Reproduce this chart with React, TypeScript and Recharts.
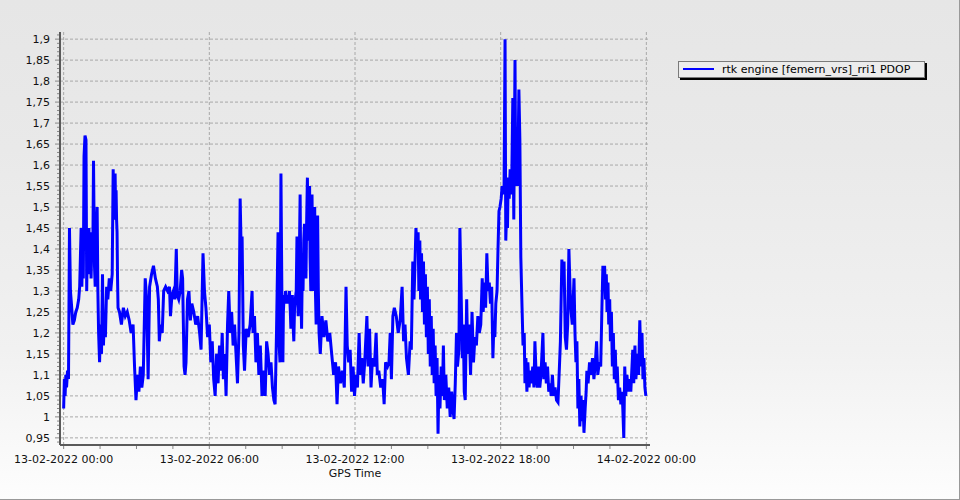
import { LineChart, Line, XAxis, YAxis, CartesianGrid, Legend } from 'recharts'

// PDOP samples: [hours since 13-02-2022 00:00, PDOP]
const block00to06: [number, number][] = [
  [0, 1.02], [0.03, 1.09], [0.06, 1.05], [0.09, 1.1], [0.12, 1.07], [0.16, 1.11], [0.2, 1.09],
  [0.24, 1.45], [0.28, 1.3], [0.32, 1.27], [0.38, 1.22], [0.44, 1.23], [0.5, 1.25], [0.56, 1.26],
  [0.62, 1.28], [0.66, 1.31], [0.72, 1.45], [0.75, 1.31], [0.78, 1.42], [0.81, 1.33], [0.84, 1.62],
  [0.88, 1.67], [0.92, 1.66], [0.95, 1.3], [0.98, 1.44], [1.01, 1.34], [1.04, 1.45], [1.07, 1.36],
  [1.1, 1.44], [1.13, 1.33], [1.16, 1.41], [1.2, 1.37], [1.23, 1.61], [1.27, 1.36], [1.3, 1.31],
  [1.34, 1.42], [1.38, 1.5], [1.41, 1.3], [1.44, 1.2], [1.48, 1.13], [1.52, 1.22], [1.56, 1.15],
  [1.6, 1.34], [1.64, 1.17], [1.68, 1.24], [1.72, 1.19], [1.77, 1.31], [1.82, 1.28], [1.88, 1.33],
  [1.94, 1.3], [2, 1.34], [2.04, 1.59], [2.06, 1.48], [2.08, 1.55], [2.1, 1.47], [2.12, 1.58],
  [2.14, 1.49], [2.16, 1.54], [2.18, 1.47], [2.2, 1.44], [2.22, 1.33],
  [2.24, 1.26], [2.3, 1.25], [2.38, 1.22], [2.46, 1.26], [2.54, 1.24], [2.62, 1.25], [2.7, 1.23],
  [2.78, 1.2], [2.86, 1.22], [2.92, 1.12], [2.98, 1.04], [3.04, 1.1], [3.1, 1.06], [3.16, 1.12],
  [3.22, 1.07], [3.28, 1.1], [3.36, 1.33], [3.42, 1.28], [3.48, 1.09], [3.54, 1.31], [3.62, 1.34],
  [3.7, 1.36], [3.78, 1.33], [3.86, 1.31], [3.9, 1.28], [3.94, 1.18], [4, 1.22], [4.06, 1.2],
  [4.12, 1.3], [4.2, 1.31], [4.28, 1.3], [4.36, 1.31], [4.4, 1.24], [4.46, 1.29], [4.52, 1.3],
  [4.58, 1.28], [4.64, 1.4], [4.68, 1.29], [4.74, 1.28], [4.8, 1.3], [4.86, 1.35], [4.9, 1.33],
  [4.96, 1.12], [5, 1.1], [5.04, 1.13], [5.1, 1.28], [5.16, 1.3], [5.22, 1.23], [5.28, 1.27],
  [5.36, 1.25], [5.44, 1.22], [5.52, 1.24], [5.6, 1.2], [5.66, 1.16], [5.74, 1.39], [5.8, 1.3],
  [5.86, 1.26], [5.93, 1.19],
]

const block06to12: [number, number][] = [
  [6, 1.22], [6.06, 1.13], [6.12, 1.18], [6.18, 1.09], [6.24, 1.05], [6.3, 1.15], [6.36, 1.08],
  [6.42, 1.17], [6.48, 1.11], [6.53, 1.2], [6.58, 1.09], [6.64, 1.15], [6.69, 1.05], [6.75, 1.22],
  [6.8, 1.3], [6.86, 1.2], [6.92, 1.25], [6.98, 1.17], [7.04, 1.22], [7.1, 1.15], [7.16, 1.08],
  [7.22, 1.2], [7.27, 1.52], [7.31, 1.4], [7.35, 1.43], [7.4, 1.17], [7.45, 1.11], [7.52, 1.21],
  [7.6, 1.19], [7.68, 1.22], [7.76, 1.3], [7.8, 1.2], [7.86, 1.24], [7.92, 1.13], [7.98, 1.2],
  [8.04, 1.1], [8.1, 1.17], [8.17, 1.05], [8.24, 1.11], [8.3, 1.05], [8.36, 1.18], [8.42, 1.15],
  [8.48, 1.1], [8.54, 1.13], [8.6, 1.07], [8.66, 1.04], [8.71, 1.03], [8.77, 1.21], [8.83, 1.44],
  [8.87, 1.18], [8.91, 1.13], [8.95, 1.58], [8.99, 1.28], [9.01, 1.2], [9.03, 1.13], [9.05, 1.25],
  [9.08, 1.29], [9.11, 1.27], [9.14, 1.3], [9.18, 1.27], [9.22, 1.29], [9.26, 1.27], [9.3, 1.3],
  [9.33, 1.26], [9.36, 1.21], [9.39, 1.28], [9.42, 1.29], [9.45, 1.22], [9.48, 1.18], [9.51, 1.26],
  [9.54, 1.28], [9.58, 1.3], [9.61, 1.43], [9.63, 1.3], [9.66, 1.24], [9.7, 1.35], [9.74, 1.53],
  [9.77, 1.3], [9.8, 1.21], [9.83, 1.36], [9.86, 1.3], [9.89, 1.42], [9.92, 1.46], [9.95, 1.35],
  [9.98, 1.33], [10.01, 1.47], [10.04, 1.57], [10.06, 1.45], [10.08, 1.42], [10.1, 1.52], [10.13, 1.55],
  [10.15, 1.38], [10.18, 1.3], [10.2, 1.45], [10.23, 1.53], [10.25, 1.4], [10.28, 1.3], [10.31, 1.44],
  [10.34, 1.5], [10.37, 1.3], [10.4, 1.22], [10.43, 1.4], [10.46, 1.48], [10.49, 1.3], [10.52, 1.2],
  [10.57, 1.15], [10.64, 1.24], [10.72, 1.19], [10.8, 1.23], [10.88, 1.18],
  [10.96, 1.2], [11.04, 1.15], [11.12, 1.1], [11.2, 1.13], [11.26, 1.03], [11.32, 1.12], [11.4, 1.08],
  [11.48, 1.11], [11.56, 1.07], [11.63, 1.31], [11.68, 1.17], [11.74, 1.13], [11.8, 1.16], [11.86, 1.06],
  [11.92, 1.12], [11.98, 1.05],
]

const block12to18: [number, number][] = [
  [12.04, 1.1], [12.1, 1.07], [12.17, 1.2], [12.22, 1.1], [12.28, 1.14], [12.34, 1.08], [12.4, 1.13],
  [12.49, 1.24], [12.54, 1.12], [12.6, 1.21], [12.66, 1.07], [12.72, 1.14], [12.8, 1.12], [12.87, 1.2],
  [12.92, 1.1], [12.98, 1.11], [13.06, 1.07], [13.14, 1.09], [13.2, 1.03], [13.26, 1.13], [13.34, 1.12],
  [13.4, 1.13], [13.45, 1.2], [13.5, 1.09], [13.56, 1.24], [13.62, 1.26], [13.7, 1.24], [13.78, 1.2],
  [13.86, 1.23], [13.94, 1.31], [14, 1.18], [14.06, 1.22], [14.12, 1.14], [14.2, 1.1], [14.27, 1.18],
  [14.32, 1.16], [14.38, 1.37], [14.43, 1.28], [14.51, 1.45], [14.56, 1.4], [14.6, 1.44], [14.63, 1.3],
  [14.67, 1.42], [14.7, 1.28], [14.74, 1.39], [14.78, 1.25], [14.82, 1.37], [14.86, 1.22], [14.9, 1.34],
  [14.94, 1.19], [14.98, 1.31], [15.02, 1.15], [15.06, 1.28], [15.1, 1.12], [15.14, 1.24], [15.18, 1.1],
  [15.22, 1.21], [15.26, 1.08], [15.3, 1.17], [15.34, 1.05], [15.38, 1.14], [15.42, 0.96], [15.46, 1.1],
  [15.5, 1.02], [15.55, 1.12], [15.6, 1.05], [15.64, 1.17], [15.68, 1.04], [15.74, 1.1], [15.8, 1.02],
  [15.86, 1.07], [15.92, 1], [15.98, 1.06], [16.03, 1.02], [16.08, 0.995], [16.13, 1.08], [16.18, 1.2],
  [16.22, 1.12], [16.28, 1.16], [16.32, 1.45], [16.37, 1.3], [16.42, 1.14], [16.46, 1.22], [16.5, 1.06],
  [16.54, 1.04], [16.6, 1.28], [16.64, 1.15], [16.7, 1.22], [16.76, 1.1], [16.82, 1.25], [16.88, 1.13],
  [16.94, 1.19], [17, 1.17], [17.06, 1.24], [17.12, 1.2], [17.18, 1.22], [17.24, 1.33], [17.28, 1.25],
  [17.33, 1.32], [17.38, 1.26], [17.43, 1.39], [17.48, 1.3], [17.53, 1.32], [17.58, 1.27], [17.63, 1.31],
  [17.68, 1.14], [17.72, 1.22], [17.76, 1.19], [17.8, 1.27], [17.85, 1.3], [17.89, 1.4], [17.93, 1.49],
]

const block18to24: [number, number][] = [
  [17.97, 1.5], [18.02, 1.52], [18.06, 1.55], [18.1, 1.53], [18.14, 1.55], [18.18, 1.9], [18.21, 1.42],
  [18.25, 1.5], [18.28, 1.45], [18.31, 1.57], [18.35, 1.52], [18.39, 1.59], [18.43, 1.53], [18.46, 1.58],
  [18.5, 1.76], [18.54, 1.47], [18.59, 1.85], [18.62, 1.55], [18.66, 1.6], [18.7, 1.55], [18.75, 1.78],
  [18.79, 1.66], [18.83, 1.38], [18.88, 1.26], [18.92, 1.17], [18.97, 1.2], [19, 1.08], [19.04, 1.14],
  [19.08, 1.06], [19.12, 1.13], [19.17, 1.07], [19.22, 1.11], [19.27, 1.08], [19.32, 1.12], [19.37, 1.07],
  [19.41, 1.18], [19.46, 1.1], [19.51, 1.07], [19.56, 1.12], [19.61, 1.07], [19.66, 1.1], [19.74, 1.2],
  [19.78, 1.09], [19.83, 1.13], [19.88, 1.08], [19.93, 1.12], [19.98, 1.06], [20.03, 1.08], [20.08, 1.05],
  [20.13, 1.1], [20.18, 1.05], [20.24, 1.07], [20.3, 1.04], [20.36, 1.035], [20.42, 1.12], [20.46, 1.18],
  [20.52, 1.375], [20.56, 1.33], [20.61, 1.37], [20.66, 1.19], [20.71, 1.16], [20.76, 1.22], [20.81, 1.4],
  [20.86, 1.3], [20.9, 1.25], [20.95, 1.22], [21.02, 1.33], [21.06, 1.2], [21.1, 1.13], [21.14, 1.18],
  [21.18, 1.02], [21.22, 1.09], [21.26, 0.977], [21.31, 1.05], [21.35, 0.99], [21.39, 1.04], [21.43, 0.962],
  [21.48, 1.02], [21.52, 1.06], [21.55, 1.11], [21.6, 1.08], [21.66, 1.13], [21.72, 1.1], [21.78, 1.14],
  [21.84, 1.09], [21.9, 1.13], [21.95, 1.18], [22, 1.1], [22.06, 1.13], [22.12, 1.12], [22.17, 1.26],
  [22.21, 1.36], [22.25, 1.3], [22.28, 1.36], [22.32, 1.28], [22.35, 1.34], [22.38, 1.25], [22.42, 1.32],
  [22.45, 1.22], [22.49, 1.28], [22.52, 1.18], [22.56, 1.25], [22.6, 1.12], [22.64, 1.2], [22.68, 1.09],
  [22.72, 1.16], [22.76, 1.08], [22.8, 1.12], [22.85, 1.04], [22.9, 1.07], [22.95, 1.03], [23, 1.06],
  [23.03, 1.02], [23.07, 0.95], [23.11, 1.12], [23.15, 1.05], [23.2, 1.1], [23.25, 1.06], [23.3, 1.09],
  [23.36, 1.06], [23.44, 1.16], [23.48, 1.08], [23.53, 1.17], [23.57, 1.09], [23.62, 1.15], [23.68, 1.1],
  [23.73, 1.23], [23.78, 1.12], [23.82, 1.2], [23.86, 1.09], [23.9, 1.14], [23.94, 1.07], [23.98, 1.05],
]

const xTicks = [0, 6, 12, 18, 24]
const xTickLabels = [
  '13-02-2022 00:00',
  '13-02-2022 06:00',
  '13-02-2022 12:00',
  '13-02-2022 18:00',
  '14-02-2022 00:00',
]
const yTicks = [
  0.95, 1, 1.05, 1.1, 1.15, 1.2, 1.25, 1.3, 1.35, 1.4, 1.45, 1.5, 1.55, 1.6, 1.65, 1.7, 1.75,
  1.8, 1.85, 1.9,
]
const seriesName = 'rtk engine [femern_vrs]_rri1 PDOP'

const data = [...block00to06, ...block06to12, ...block12to18, ...block18to24].map(([t, pdop]) => ({
  t,
  pdop,
}))

// minor ticks: 4 per 6h on x, 5 per 0.05 on y
const xMinor: number[] = []
for (let i = 0; i < xTicks.length - 1; i++) {
  for (let k = 0; k < 4; k++) xMinor.push(xTicks[i] + (k * (xTicks[i + 1] - xTicks[i])) / 4)
}
xMinor.push(xTicks[xTicks.length - 1])
const yMinor: number[] = []
for (let v = 94; v <= 191; v++) yMinor.push(v / 100)

const font = '"DejaVu Sans", Verdana, sans-serif'
const isMajorY = (v: number) => yTicks.some((m) => Math.abs(m - v) < 1e-6)

function XTick({ x, y, payload }: any) {
  const i = xTicks.indexOf(payload.value)
  return (
    <g>
      <line x1={x} x2={x} y1={y + 1} y2={y + 4} stroke="#888" />
      {i >= 0 && (
        <text x={x} y={y + 18} textAnchor="middle" fontFamily={font} fontSize={11} fill="#111">
          {xTickLabels[i]}
        </text>
      )}
    </g>
  )
}

function YTick({ x, y, payload }: any) {
  const major = isMajorY(payload.value)
  return (
    <g>
      <line x1={x - (major ? 5 : 3)} x2={x - 1} y1={y} y2={y} stroke="#888" />
      {major && (
        <text x={x - 10} y={y + 4} textAnchor="end" fontFamily={font} fontSize={11} fill="#111">
          {String(Number(payload.value.toFixed(2))).replace('.', ',')}
        </text>
      )}
    </g>
  )
}

function LegendBox() {
  return (
    <div
      style={{
        display: 'inline-flex',
        alignItems: 'center',
        height: 15,
        padding: '0 14px 0 4px',
        border: '1px solid #7a7a7a',
        boxShadow: '2px 2px 0 #000',
        background: '#ececec',
        fontFamily: font,
        fontSize: 11,
        color: '#000',
        whiteSpace: 'nowrap',
      }}
    >
      <span style={{ display: 'inline-block', width: 31, height: 2, background: '#0000ff', marginRight: 8 }} />
      {seriesName}
    </div>
  )
}

export default function App() {
  return (
    <div
      style={{
        position: 'absolute',
        left: 0,
        top: 0,
        width: 960,
        height: 500,
        boxSizing: 'border-box',
        borderRight: '1px solid #999',
        borderBottom: '1px solid #999',
        background: 'linear-gradient(to bottom, #e6e6e6 0%, #e9e9e9 30%, #f1f1f1 70%, #fdfdfd 100%)',
      }}
    >
      <LineChart width={959} height={499} data={data} margin={{ top: 32, right: 309, bottom: 0, left: 0 }}>
        <CartesianGrid
          stroke="#a8a8a8"
          strokeDasharray="3 2"
          horizontalValues={yTicks}
          verticalValues={xTicks}
        />
        <XAxis
          dataKey="t"
          type="number"
          domain={[-0.15, 24.15]}
          allowDataOverflow
          ticks={xMinor}
          interval={0}
          tickSize={0}
          tickMargin={0}
          tickLine={false}
          tick={<XTick />}
          height={54}
          axisLine={{ stroke: '#5a5a5a', strokeWidth: 2 }}
          label={{
            content: ({ viewBox }: any) => (
              <text
                x={viewBox.x + viewBox.width / 2}
                y={viewBox.y + 32}
                textAnchor="middle"
                fontFamily={font}
                fontSize={11}
                fill="#111"
              >
                GPS Time
              </text>
            ),
          }}
        />
        <YAxis
          type="number"
          domain={[0.933, 1.917]}
          allowDataOverflow
          ticks={yMinor}
          interval={0}
          tickSize={0}
          tickMargin={0}
          tickLine={false}
          tick={<YTick />}
          width={60}
          axisLine={{ stroke: '#5a5a5a', strokeWidth: 2 }}
        />
        <Legend
          layout="vertical"
          align="center"
          verticalAlign="middle"
          content={<LegendBox />}
          wrapperStyle={{ top: 56, left: 678, width: 270 }}
        />
        <Line
          type="linear"
          dataKey="pdop"
          name={seriesName}
          stroke="#0000ff"
          strokeWidth={3}
          dot={false}
          activeDot={false}
          isAnimationActive={false}
        />
      </LineChart>
    </div>
  )
}
